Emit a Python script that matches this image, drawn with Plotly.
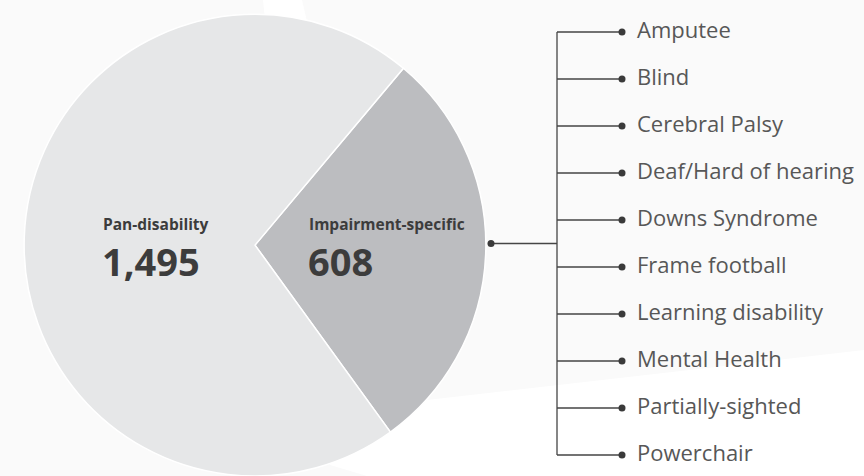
import plotly.graph_objects as go

# ---- data ----
slice_labels = ["Impairment-specific", "Pan-disability"]
slice_values = [608, 1495]
slice_colors = ["#bcbdc0", "#e6e7e8"]
subcategories = [
    "Amputee", "Blind", "Cerebral Palsy", "Deaf/Hard of hearing",
    "Downs Syndrome", "Frame football", "Learning disability",
    "Mental Health", "Partially-sighted", "Powerchair",
]

W, H = 864, 476
FONT = "Open Sans"
LINE_C = "#454545"


def px(x, y):
    return x / W, (H - y) / H


def path(points):
    pts = [px(x, y) for x, y in points]
    return "M " + " L ".join(f"{a:.5f},{b:.5f}" for a, b in pts) + " Z"


fig = go.Figure()

# ---- pie ----
fig.add_trace(go.Pie(
    labels=slice_labels, values=slice_values, sort=False,
    direction="clockwise", rotation=40,
    marker=dict(colors=slice_colors, line=dict(color="white", width=1.5)),
    textinfo="none", hoverinfo="label+value",
    domain=dict(x=[24 / W, 486 / W], y=[0, 0.97]),
    showlegend=False,
))

# ---- connector tree (y = category index) ----
idx = list(range(len(subcategories)))
mid = (len(subcategories) - 1) / 2
X_DOT, X_TRUNK, X_BRANCH, X_TEXT = 491, 557, 622, 637

lx, ly = [X_DOT, X_TRUNK, None, X_TRUNK, X_TRUNK, None], [mid, mid, None, idx[0], idx[-1], None]
for i in idx:
    lx += [X_TRUNK, X_BRANCH, None]
    ly += [i, i, None]
fig.add_trace(go.Scatter(x=lx, y=ly, mode="lines", line=dict(color=LINE_C, width=1.3),
                         hoverinfo="skip", showlegend=False, cliponaxis=False))
fig.add_trace(go.Scatter(x=[X_DOT] + [X_BRANCH] * len(idx), y=[mid] + idx, mode="markers",
                         marker=dict(color="#3a3a3a", size=7), hoverinfo="skip",
                         showlegend=False, cliponaxis=False))
fig.add_trace(go.Scatter(x=[X_TEXT] * len(idx), y=idx, mode="text", text=subcategories,
                         textposition="middle right",
                         textfont=dict(family=FONT, size=22, color="#575757"),
                         hoverinfo="skip", showlegend=False, cliponaxis=False))

# ---- pie labels ----
label_pos = {"Pan-disability": 101, "Impairment-specific": 307}
annotations = []
for lab, val in zip(slice_labels, slice_values):
    x0 = label_pos[lab] / W
    annotations.append(dict(x=x0, y=(H - 224) / H, xref="paper", yref="paper",
                            text=f"<b>{lab}</b>", showarrow=False, xanchor="left", yanchor="middle",
                            font=dict(family=FONT, size=15.5, color="#3c3c3c")))
    annotations.append(dict(x=x0 - 1 / W, y=(H - 261) / H, xref="paper", yref="paper",
                            text=f"<b>{val:,}</b>", showarrow=False, xanchor="left", yanchor="middle",
                            font=dict(family=FONT, size=38, color="#3c3c3c")))

# ---- background decoration ----
shapes = [
    dict(type="path", xref="paper", yref="paper", layer="below", line=dict(width=0),
         fillcolor="#ffffff", path=path([(263, 0), (302, 0), (330, 120), (275, 120)])),
    dict(type="path", xref="paper", yref="paper", layer="below", line=dict(width=0),
         fillcolor="#ffffff",
         path=path([(864, 350), (427, 400), (330, 440), (330, 465), (367, 476), (864, 476)])),
]

fig.update_layout(
    width=W, height=H, margin=dict(l=0, r=0, t=0, b=0),
    paper_bgcolor="#fafafa", plot_bgcolor="rgba(0,0,0,0)",
    xaxis=dict(visible=False, range=[0, W], fixedrange=True),
    yaxis=dict(visible=False, range=[(H - 32) / 47, -32 / 47], fixedrange=True),
    annotations=annotations, shapes=shapes,
    font=dict(family=FONT),
)

fig.write_html(
    "out.html",
    config={"displayModeBar": False},
    post_script="document.body.style.margin='0px';document.body.style.overflow='hidden';",
)
